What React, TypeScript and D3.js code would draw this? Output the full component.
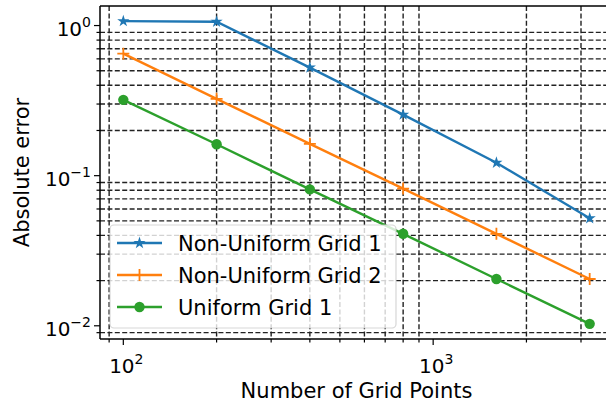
import React from "react";
import * as d3 from "d3";

// grid sizes and absolute errors
const gridPoints = [100, 200, 400, 800, 1600, 3200];
const nonUniform1 = [1.07, 1.06, 0.525, 0.255, 0.122, 0.052];
const nonUniform2 = [0.65, 0.325, 0.163, 0.082, 0.041, 0.0205];
const uniform1 = [0.32, 0.162, 0.081, 0.041, 0.0205, 0.0103];

const seriesNames = ["Non-Uniform Grid 1", "Non-Uniform Grid 2", "Uniform Grid 1"];
const xMajorExps = [2, 3];
const yMajorExps = [-2, -1, 0];

const W = 606, H = 406;
const margin = { left: 100, right: 613, top: 6, bottom: 339 };
const FONT = "DejaVu Sans, sans-serif";

const colors = ["#1f77b4", "#ff7f0e", "#2ca02c"];
const markers = ["star", "plus", "circle"];

// matplotlib-like 5% margin in log space
function logDomain(vals: number[]): [number, number] {
  const lo = Math.log10(d3.min(vals)!), hi = Math.log10(d3.max(vals)!);
  const pad = (hi - lo) * 0.05;
  return [Math.pow(10, lo - pad), Math.pow(10, hi + pad)];
}

function minorTicks(domain: [number, number]) {
  const out: number[] = [];
  const k0 = Math.floor(Math.log10(domain[0])), k1 = Math.ceil(Math.log10(domain[1]));
  for (let k = k0; k <= k1; k++) {
    for (let m = 2; m <= 9; m++) {
      const v = m * Math.pow(10, k);
      if (v >= domain[0] && v <= domain[1]) out.push(v);
    }
  }
  return out;
}

function Marker({ type, x, y, color }: { type: string; x: number; y: number; color: string }) {
  if (type === "circle") return <circle cx={x} cy={y} r={5.2} fill={color} />;
  if (type === "plus")
    return <path d={`M${x - 6},${y}H${x + 6}M${x},${y - 6}V${y + 6}`} stroke={color} strokeWidth={1.8} />;
  const star = d3.symbol().type(d3.symbolStar).size(46)();
  return <path d={star || ""} transform={`translate(${x},${y})`} fill={color} />;
}

function Pow({ exp, x, y, anchor }: { exp: number; x: number; y: number; anchor: string }) {
  const e = exp < 0 ? "\u2212" + Math.abs(exp) : String(exp);
  return (
    <text x={x} y={y} textAnchor={anchor} fontSize={20} fontFamily={FONT} fill="#000">
      <tspan>10</tspan>
      <tspan dy={-9} fontSize={14}>{e}</tspan>
    </text>
  );
}

export default function App() {
  const series = [nonUniform1, nonUniform2, uniform1];
  const xDom = logDomain(gridPoints);
  const yDom = logDomain(series.flat());
  const x = d3.scaleLog().domain(xDom).range([margin.left, margin.right]);
  const y = d3.scaleLog().domain(yDom).range([margin.bottom, margin.top]);
  const xMinor = minorTicks(xDom);
  const yMinor = minorTicks(yDom);
  const lineGen = d3.line<[number, number]>().x(d => x(d[0])).y(d => y(d[1]));

  const legend = { x: 110, y: 225, w: 286, h: 103 };

  return (
    <svg width={W} height={H} style={{ position: "absolute", left: 0, top: 0, background: "#fff" }}>
      <rect width={W} height={H} fill="#fff" />
      {/* minor grid */}
      <g stroke="#222" strokeWidth={1.4} strokeDasharray="5,2.4">
        {xMinor.map(v => <line key={"gx" + v} x1={x(v)} x2={x(v)} y1={margin.top} y2={margin.bottom} />)}
        {yMinor.map(v => <line key={"gy" + v} x1={margin.left} x2={margin.right} y1={y(v)} y2={y(v)} />)}
      </g>
      {/* series */}
      {series.map((s, i) => (
        <g key={"s" + i}>
          <path d={lineGen(gridPoints.map((g, j) => [g, s[j]] as [number, number])) || ""}
            fill="none" stroke={colors[i]} strokeWidth={2.4} />
          {gridPoints.map((g, j) => <Marker key={j} type={markers[i]} x={x(g)} y={y(s[j])} color={colors[i]} />)}
        </g>
      ))}
      {/* spines */}
      <g stroke="#000" strokeWidth={1.5} fill="none">
        <line x1={margin.left} x2={margin.left} y1={margin.top} y2={margin.bottom} />
        <line x1={margin.left} x2={margin.right} y1={margin.bottom} y2={margin.bottom} />
        <line x1={margin.left} x2={margin.right} y1={margin.top} y2={margin.top} />
        <line x1={margin.right} x2={margin.right} y1={margin.top} y2={margin.bottom} />
      </g>
      {/* ticks */}
      <g stroke="#000" strokeWidth={1.2}>
        {xMinor.map(v => <line key={"tx" + v} x1={x(v)} x2={x(v)} y1={margin.bottom} y2={margin.bottom + 3.5} />)}
        {yMinor.map(v => <line key={"ty" + v} x1={margin.left - 3.5} x2={margin.left} y1={y(v)} y2={y(v)} />)}
        {xMajorExps.map(e => <line key={"Tx" + e} x1={x(10 ** e)} x2={x(10 ** e)} y1={margin.bottom} y2={margin.bottom + 6} />)}
        {yMajorExps.map(e => <line key={"Ty" + e} x1={margin.left - 6} x2={margin.left} y1={y(10 ** e)} y2={y(10 ** e)} />)}
      </g>
      {xMajorExps.map(e => <Pow key={"lx" + e} exp={e} x={x(10 ** e) + 3} y={margin.bottom + 34} anchor="middle" />)}
      {yMajorExps.map(e => <Pow key={"ly" + e} exp={e} x={margin.left - 9} y={y(10 ** e) + 10} anchor="end" />)}
      {/* axis labels */}
      <text x={(margin.left + margin.right) / 2} y={398} textAnchor="middle" fontSize={21} fontFamily={FONT}>
        Number of Grid Points
      </text>
      <text transform={`translate(29,${(margin.top + margin.bottom) / 2}) rotate(-90)`} textAnchor="middle"
        fontSize={21} fontFamily={FONT}>
        Absolute error
      </text>
      {/* legend */}
      <rect x={legend.x} y={legend.y} width={legend.w} height={legend.h} rx={4}
        fill="#fff" fillOpacity={0.8} stroke="#ccc" strokeOpacity={0.8} strokeWidth={1.2} />
      {seriesNames.map((name, i) => {
        const ry = legend.y + 18 + i * 32;
        return (
          <g key={"lg" + i}>
            <line x1={117} x2={162} y1={ry} y2={ry} stroke={colors[i]} strokeWidth={2.4} />
            <Marker type={markers[i]} x={139.5} y={ry} color={colors[i]} />
            <text x={178} y={ry + 7.5} fontSize={21} fontFamily={FONT} fill="#000">{name}</text>
          </g>
        );
      })}
    </svg>
  );
}
